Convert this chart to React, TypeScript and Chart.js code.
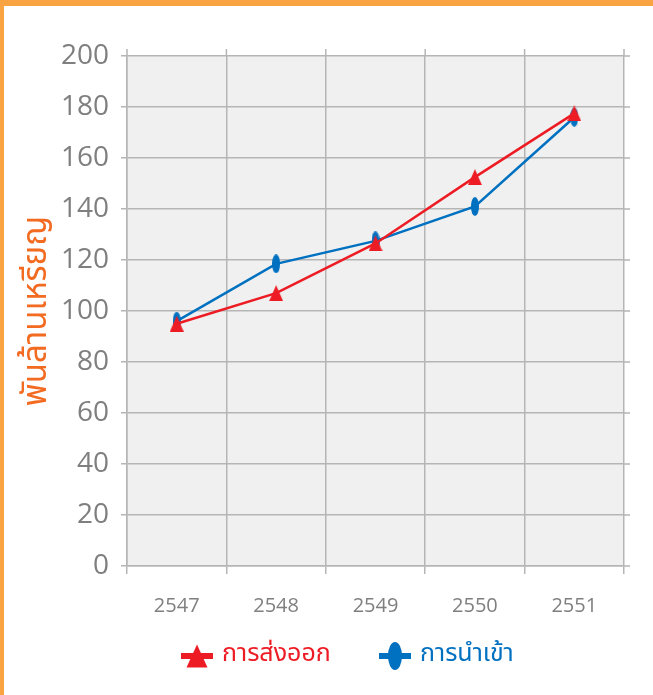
import React, { useEffect, useRef } from 'react';
import { Chart, registerables } from 'chart.js';
Chart.register(...registerables);

const years = ['2547', '2548', '2549', '2550', '2551'];
const exportValues = [95, 107, 126.5, 152.5, 177.5];
const importValues = [96, 118.5, 127.5, 141, 176];
const seriesNames = ['การส่งออก', 'การนำเข้า'];
const yTitle = 'พันล้านเหรียญ';
const yMin = 0;
const yMax = 200;
const yStep = 20;

const RED = '#ED1C24';
const BLUE = '#0070C0';
const ORANGE = '#F9A342';
const TITLE_ORANGE = '#F26B21';
const TICK_GRAY = '#7F7F7F';
const GRID = '#B5B5B5';
const THAI_FONT = "'Noto Sans Thai', 'Noto Sans', sans-serif";

function drawTriangle(ctx: CanvasRenderingContext2D, cx: number, cy: number, w: number, h: number, color: string) {
  ctx.fillStyle = color;
  ctx.beginPath();
  ctx.moveTo(cx, cy - h / 2);
  ctx.lineTo(cx + w / 2, cy + h / 2);
  ctx.lineTo(cx - w / 2, cy + h / 2);
  ctx.closePath();
  ctx.fill();
}

function drawEllipse(ctx: CanvasRenderingContext2D, cx: number, cy: number, w: number, h: number, color: string) {
  ctx.fillStyle = color;
  ctx.beginPath();
  ctx.ellipse(cx, cy, w / 2, h / 2, 0, 0, Math.PI * 2);
  ctx.fill();
}

function makeMarker(kind: 'tri' | 'ell', w: number, h: number, color: string) {
  const c = document.createElement('canvas');
  c.width = w;
  c.height = h;
  const ctx = c.getContext('2d')!;
  if (kind === 'tri') drawTriangle(ctx, w / 2, h / 2, w, h, color);
  else drawEllipse(ctx, w / 2, h / 2, w, h, color);
  return c;
}

export default function App() {
  const ref = useRef<HTMLCanvasElement | null>(null);

  useEffect(() => {
    document.body.style.margin = '0';
    const triMarker = makeMarker('tri', 14, 16, RED);
    const ellMarker = makeMarker('ell', 8, 19, BLUE);
    const kinds: ('tri' | 'ell')[] = ['tri', 'ell'];

    const bgAndGridExt = {
      id: 'bgAndGridExt',
      beforeDraw(chart: any) {
        const { ctx, chartArea } = chart;
        ctx.save();
        ctx.fillStyle = '#F0F0F0';
        ctx.fillRect(chartArea.left, chartArea.top, chartArea.right - chartArea.left, chartArea.bottom - chartArea.top);
        ctx.restore();
      },
      beforeDatasetsDraw(chart: any) {
        const { ctx, chartArea, scales } = chart;
        ctx.save();
        ctx.strokeStyle = GRID;
        ctx.lineWidth = 1.5;
        const n = years.length;
        const step = (chartArea.right - chartArea.left) / n;
        for (let i = 0; i <= n; i++) {
          const x = chartArea.left + i * step;
          ctx.beginPath();
          ctx.moveTo(x, chartArea.top - 7);
          ctx.lineTo(x, chartArea.top);
          ctx.stroke();
        }
        for (let v = yMin; v <= yMax; v += yStep) {
          const y = scales.y.getPixelForValue(v);
          ctx.beginPath();
          ctx.moveTo(chartArea.right, y);
          ctx.lineTo(chartArea.right + 6, y);
          ctx.stroke();
        }
        ctx.restore();
      },
    };

    const bottomLegend = {
      id: 'bottomLegend',
      afterDraw(chart: any) {
        const { ctx } = chart;
        const cy = 656;
        const startX = [181, 379];
        ctx.save();
        ctx.font = `25px ${THAI_FONT}`;
        ctx.textBaseline = 'middle';
        ctx.textAlign = 'left';
        chart.data.datasets.forEach((ds: any, i: number) => {
          const x0 = startX[i];
          const color = ds.borderColor;
          ctx.fillStyle = color;
          ctx.fillRect(x0, cy - 3, 32, 6);
          if (kinds[i] === 'tri') drawTriangle(ctx, x0 + 16, cy, 21, 23, color);
          else drawEllipse(ctx, x0 + 16, cy, 14, 28, color);
          ctx.fillStyle = color;
          ctx.fillText(ds.label, x0 + 41, cy);
        });
        ctx.restore();
      },
    };

    const chart = new Chart(ref.current!, {
      type: 'line',
      data: {
        labels: years,
        datasets: [
          {
            label: seriesNames[0],
            data: exportValues,
            borderColor: RED,
            backgroundColor: RED,
            borderWidth: 2.5,
            pointStyle: triMarker as any,
            pointRadius: 7,
            tension: 0,
          },
          {
            label: seriesNames[1],
            data: importValues,
            borderColor: BLUE,
            backgroundColor: BLUE,
            borderWidth: 2.5,
            pointStyle: ellMarker as any,
            pointRadius: 7,
            tension: 0,
          },
        ],
      },
      options: {
        animation: false,
        responsive: false,
        layout: { padding: { top: 56, right: 29, bottom: 57, left: 0 } },
        plugins: {
          tooltip: { enabled: false },
          legend: { display: false },
        },
        scales: {
          x: {
            offset: true,
            grid: { offset: true, color: GRID, lineWidth: 1.5, tickLength: 8, drawTicks: true },
            border: { color: GRID, width: 1.5 },
            ticks: {
              color: TICK_GRAY,
              font: { family: "'Open Sans', sans-serif", size: 20 },
              padding: 20,
            },
          },
          y: {
            min: yMin,
            max: yMax,
            grid: { color: GRID, lineWidth: 1.5, tickLength: 6 },
            border: { color: GRID, width: 1.5 },
            ticks: {
              stepSize: yStep,
              color: TICK_GRAY,
              font: { family: "'Open Sans', sans-serif", size: 28 },
              padding: 12,
            },
            title: {
              display: true,
              text: yTitle,
              color: TITLE_ORANGE,
              font: { family: THAI_FONT, size: 33 },
              padding: { top: 20, bottom: 0 },
            },
            afterFit(scale: any) {
              scale.width = 127;
            },
          },
        },
      },
      plugins: [bgAndGridExt, bottomLegend],
    });
    return () => chart.destroy();
  }, []);

  return (
    <div style={{ position: 'relative', width: 653, height: 695, background: '#fff', overflow: 'hidden' }}>
      <canvas ref={ref} width={653} height={695} style={{ position: 'absolute', left: 0, top: 0 }} />
      <div style={{ position: 'absolute', left: 0, top: 0, width: 653, height: 6, background: ORANGE }} />
      <div style={{ position: 'absolute', left: 0, top: 0, width: 4, height: 695, background: ORANGE }} />
    </div>
  );
}
